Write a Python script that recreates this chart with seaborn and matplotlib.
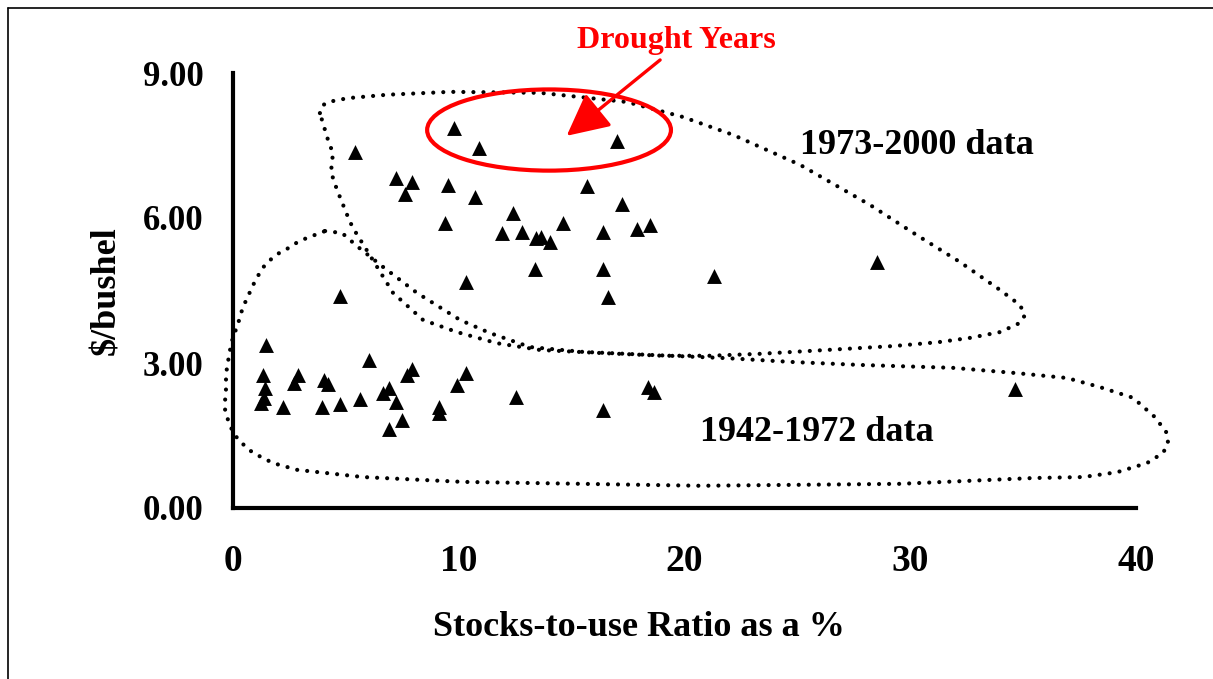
import numpy as np
import pandas as pd
import matplotlib
matplotlib.use("Agg")
import matplotlib.pyplot as plt
import seaborn as sns
from matplotlib.patches import Ellipse
from matplotlib.lines import Line2D

# --- data (stocks-to-use %, $/bushel) ---
stocks_1973_2000 = [9.80, 10.91, 17.00, 5.42, 7.22, 7.92, 7.62, 9.51, 10.72, 15.70,
                    17.21, 12.42, 9.41, 14.62, 11.90, 12.82, 13.41, 13.63, 14.03, 16.41,
                    17.91, 18.45, 13.39, 16.41, 10.32, 16.60, 4.74, 21.31, 28.52]
price_1973_2000 = [7.86, 7.44, 7.59, 7.37, 6.83, 6.75, 6.49, 6.68, 6.43, 6.66,
                   6.30, 6.10, 5.90, 5.90, 5.70, 5.72, 5.58, 5.60, 5.50, 5.72,
                   5.77, 5.86, 4.95, 4.95, 4.67, 4.37, 4.39, 4.81, 5.08]

stocks_1942_1972 = [1.45, 1.31, 1.42, 1.39, 1.23, 2.89, 2.72, 2.23, 4.05, 4.22,
                    3.93, 4.74, 6.04, 5.63, 6.66, 6.93, 7.21, 6.91, 7.50, 7.70,
                    7.92, 9.14, 9.11, 9.91, 10.32, 12.52, 16.41, 18.40, 18.67, 34.62]
price_1942_1972 = [3.37, 2.75, 2.48, 2.27, 2.17, 2.75, 2.58, 2.10, 2.65, 2.57,
                   2.08, 2.15, 3.06, 2.25, 2.37, 2.49, 2.20, 1.63, 1.83, 2.75,
                   2.87, 2.10, 1.97, 2.54, 2.79, 2.30, 2.03, 2.51, 2.39, 2.46]

x_ticks = [0, 10, 20, 30, 40]
y_ticks = [0, 3, 6, 9]

# hand-drawn grouping outlines (data units)
loop_recent_x = [3.85, 3.94, 4.21, 5.09, 6.82, 9.61, 13.60, 17.45, 19.93, 22.15, 25.12, 28.22,
                 30.21, 32.20, 33.98, 34.86, 35.08, 34.86, 33.98, 32.65, 31.23, 29.24, 26.31,
                 23.34, 21.13, 19.05, 16.12, 13.60, 11.69, 9.92, 8.42, 7.09, 6.38, 5.40, 5.18,
                 4.61, 4.34, 4.43, 4.25, 3.85]
loop_recent_y = [8.17, 8.32, 8.40, 8.48, 8.55, 8.61, 8.59, 8.40, 8.09, 7.72, 7.10, 6.27,
                 5.67, 5.09, 4.51, 4.20, 3.99, 3.83, 3.64, 3.52, 3.43, 3.35, 3.27,
                 3.19, 3.15, 3.15, 3.21, 3.27, 3.41, 3.64, 3.89, 4.45, 4.99, 5.73, 5.92,
                 6.58, 6.95, 7.35, 7.55, 8.17]

loop_early_x = [4.08, 4.83, 5.54, 6.64, 8.15, 10.06, 11.38, 13.16, 15.50, 18.34, 21.88, 24.81,
                27.77, 31.89, 34.73, 36.94, 38.41, 39.87, 40.84, 41.37, 41.42, 41.20, 40.49,
                39.16, 37.65, 35.44, 29.55, 20.69, 10.19, 5.76, 2.84, 1.77, 0.89, 0.53, 0.18,
                -0.04, -0.22, -0.35, -0.35, -0.31, -0.31, -0.27, -0.13, 0.0, 0.18, 0.31, 0.44,
                0.66, 0.84, 1.06, 1.28, 1.59, 1.99, 2.39, 2.79, 3.19, 3.63, 4.08]
loop_early_y = [5.73, 5.69, 5.40, 4.99, 4.45, 3.89, 3.62, 3.33, 3.23, 3.17, 3.10, 3.02,
                2.96, 2.90, 2.79, 2.69, 2.50, 2.28, 1.88, 1.55, 1.34, 1.14, 0.93,
                0.74, 0.64, 0.62, 0.50, 0.46, 0.54, 0.64, 0.79, 0.93, 1.14, 1.28, 1.45,
                1.61, 1.82, 2.03, 2.23, 2.46, 2.69, 2.90, 3.27, 3.54, 3.75, 3.95, 4.16,
                4.37, 4.57, 4.76, 4.95, 5.11, 5.26, 5.36, 5.48, 5.57, 5.65, 5.73]

df = pd.DataFrame({
    "stocks": stocks_1973_2000 + stocks_1942_1972,
    "price": price_1973_2000 + price_1942_1972,
})

sns.set_style("white")
plt.rcParams["font.family"] = ["Liberation Serif", "DejaVu Serif"]
plt.rcParams["font.weight"] = "bold"
plt.rcParams["text.color"] = "black"
plt.rcParams["axes.labelcolor"] = "black"

fig = plt.figure(figsize=(12.13, 6.79), dpi=100)
ax = fig.add_axes([233 / 1213, 1 - 508 / 679, 903 / 1213, 435 / 679])

sns.scatterplot(data=df, x="stocks", y="price", marker="^", color="black",
                s=115, linewidth=0, ax=ax, zorder=5, clip_on=False)

ax.set_xlim(0, 40)
ax.set_ylim(0, 9)
ax.set_xticks(x_ticks)
ax.set_yticks(y_ticks)
ax.set_yticklabels([f"{v:.2f}" for v in y_ticks])
ax.tick_params(axis="both", direction="out", length=9, width=2.2, colors="black")
ax.tick_params(axis="y", pad=12, labelsize=25)
ax.tick_params(axis="x", pad=17, labelsize=27)
for lab in ax.get_xticklabels() + ax.get_yticklabels():
    lab.set_fontweight("bold")

sns.despine(ax=ax)
for side in ["left", "bottom"]:
    ax.spines[side].set_linewidth(3)
    ax.spines[side].set_color("black")

ax.set_xlabel("Stocks-to-use Ratio as a %", fontsize=26, fontweight="bold")
ax.set_ylabel("\\$/bushel", fontsize=26, fontweight="bold")
ax.xaxis.set_label_coords((639 - 233) / 903, (508 - 627) / 435)
ax.xaxis.label.set_va("center")
ax.yaxis.set_label_coords((107 - 233) / 903, 0.5)
ax.yaxis.label.set_va("center")

# dotted group outlines
dot_style = dict(color="black", lw=3, linestyle=(0, (0.01, 2.4)),
                 dash_capstyle="round", clip_on=False, zorder=3)
ax.plot(loop_recent_x, loop_recent_y, **dot_style)
ax.plot(loop_early_x, loop_early_y, **dot_style)

# drought years highlight
ax.add_patch(Ellipse((14.0, 7.82), 10.8, 1.68, fill=False, edgecolor="red",
                     lw=3, zorder=4, clip_on=False))
ax.annotate("", xy=(14.78, 7.70), xytext=(18.92, 9.27),
            arrowprops=dict(arrowstyle="-|>,head_length=2.6,head_width=1.3",
                            color="red", lw=2.4, mutation_scale=10,
                            shrinkA=0, shrinkB=0),
            annotation_clip=False, zorder=6)
ax.text(19.62, 9.68, "Drought Years", color="red", fontsize=23, fontweight="bold",
        ha="center", va="center", clip_on=False)

ax.text(30.30, 7.51, "1973-2000 data", fontsize=26, fontweight="bold",
        ha="center", va="center")
ax.text(25.87, 1.57, "1942-1972 data", fontsize=26, fontweight="bold",
        ha="center", va="center")

# outer frame (left and top edges)
fig.add_artist(Line2D([8 / 1213, 8 / 1213], [0, 1 - 8 / 679], transform=fig.transFigure,
                      color="black", lw=1.2))
fig.add_artist(Line2D([8 / 1213, 1], [1 - 8 / 679, 1 - 8 / 679], transform=fig.transFigure,
                      color="black", lw=1.2))

fig.savefig("out.png", dpi=100, facecolor="white")
